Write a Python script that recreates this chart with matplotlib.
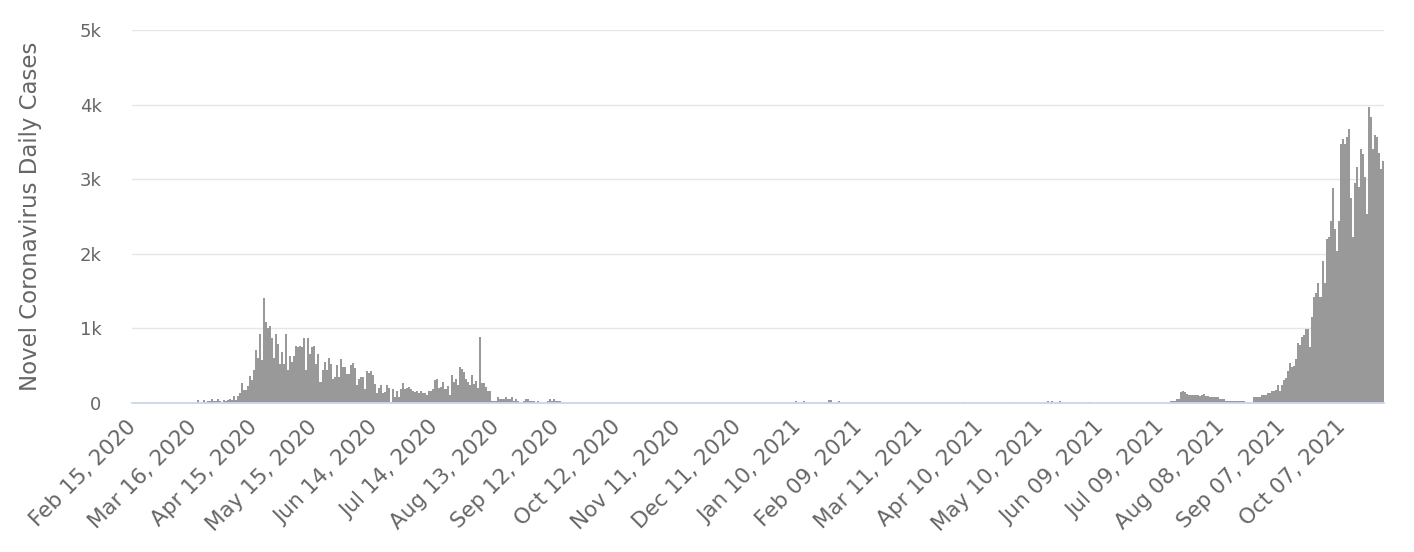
import matplotlib
matplotlib.use("Agg")
import matplotlib.pyplot as plt
import pandas as pd
import numpy as np

start_date = "2020-02-15"

# Daily cases, segment by segment
cases_before_first = [0] * 32
cases_wave1_rise = [40, 0, 0, 40, 0, 30, 30, 60, 30, 30, 60, 30, 0, 40, 30, 40, 60,
                    40, 90, 40, 90, 130, 270, 175, 175, 230, 360, 310, 440, 710, 600,
                    925, 575, 1410]
cases_wave1_peak = [1085, 1005, 1030, 870, 600, 925, 790, 520, 685, 520, 925, 440, 630,
                    550, 630, 765, 750, 765, 750, 870, 440, 870, 655, 750, 765, 520, 655,
                    280, 440, 550, 440, 600]
cases_summer_2020 = [518, 326, 353, 510, 353, 595, 483, 483, 385, 385, 514, 541, 474, 241,
                     326, 353, 353, 192, 434, 407, 434, 380, 250, 139, 201, 237, 139, 147,
                     246, 201, 15, 192, 85, 165, 85, 183, 273, 183, 201, 219, 183, 165, 147,
                     165, 130, 165, 139, 130, 112, 157, 157, 183, 308, 326, 201, 210, 282,
                     183, 228, 103]
cases_aug_sep_2020 = [375, 286, 317, 241, 483, 451, 420, 317, 286, 241, 375, 259, 295, 197,
                      885, 273, 273, 215, 161, 161, 27, 27, 27, 80, 49, 49, 49, 80, 49, 49,
                      80, 27, 49, 27, 0, 0, 27, 49, 49, 27, 27, 27, 0, 27, 0, 0, 0, 0, 27,
                      49, 27, 49, 27, 27, 27]
# quiet period (day index 213 .. 514): zeros with a few tiny reports
quiet_length = 302
quiet_reports = {329: 25, 333: 25, 345: 35, 346: 35, 350: 25, 412: 20, 435: 20,
                 454: 25, 456: 25, 460: 25, 474: 20}
cases_summer_2021 = [31, 31, 31, 54, 54, 143, 165, 143, 121, 112, 112, 112, 103, 112, 98,
                     103, 125, 98, 98, 85, 85, 85, 85, 85, 58, 58, 58,
                     31, 31, 31, 31, 31, 31, 31, 31, 31, 31, 0, 0, 0, 0]
cases_wave_2021 = [81, 81, 81, 81, 108, 108, 108, 134, 134, 161, 161, 170, 242, 161, 242,
                   314, 331, 430, 538, 484, 496, 591, 806, 780, 887, 914, 995, 995, 753,
                   1156, 1425, 1478, 1613, 1425, 1908, 1613, 2204, 2231, 2446, 2876,
                   2327, 2037, 2439, 3466, 3533, 3466, 3565, 3667, 2752, 2225, 2953, 3163,
                   2895, 3399, 3332, 3029, 2528, 3967, 3833, 3399, 3591, 3565, 3355, 3131,
                   3243]

quiet = [0] * quiet_length
for day, v in quiet_reports.items():
    quiet[day - 213] = v

cases = (cases_before_first + cases_wave1_rise + cases_wave1_peak + cases_summer_2020
         + cases_aug_sep_2020 + quiet + cases_summer_2021 + cases_wave_2021)
n = len(cases)
dates = pd.date_range(start_date, periods=n, freq="D")
tick_every = 30
y_ticks = [0, 1000, 2000, 3000, 4000, 5000]
y_tick_labels = ["0", "1k", "2k", "3k", "4k", "5k"]

plt.rcParams["font.family"] = ["DejaVu Sans"]

W, H = 1414, 552
fig = plt.figure(figsize=(W / 100, H / 100), dpi=100)
ax = fig.add_axes([132 / W, 149 / H, 1252 / W, 373 / H])

x = np.arange(n)
ax.bar(x, cases, width=1.0, color="#999999", linewidth=0, zorder=3)

ax.set_xlim(-0.5, n - 0.5)
ax.set_ylim(0, 5000)

ax.set_yticks(y_ticks)
ax.set_yticklabels(y_tick_labels)
ax.grid(axis="y", color="#e6e6e6", linewidth=1.0, zorder=0)
ax.set_axisbelow(True)

tick_pos = list(range(0, n, tick_every))
ax.set_xticks(tick_pos)
ax.set_xticklabels([dates[i].strftime("%b %d, %Y") for i in tick_pos],
                   rotation=45, ha="right", va="center", rotation_mode="anchor")

for s in ["top", "right", "left"]:
    ax.spines[s].set_visible(False)
ax.spines["bottom"].set_color("#ccd6eb")
ax.spines["bottom"].set_linewidth(1.3)
ax.spines["bottom"].set_zorder(4)

ax.tick_params(axis="y", length=0, pad=22, labelsize=13, labelcolor="#666666")
ax.tick_params(axis="x", length=0, pad=15, labelsize=15.5, labelcolor="#666666")

ax.set_ylabel("Novel Coronavirus Daily Cases", fontsize=16.5, color="#666666")
ax.yaxis.set_label_coords(-0.072, 0.5)

fig.savefig("out.png", dpi=100)
